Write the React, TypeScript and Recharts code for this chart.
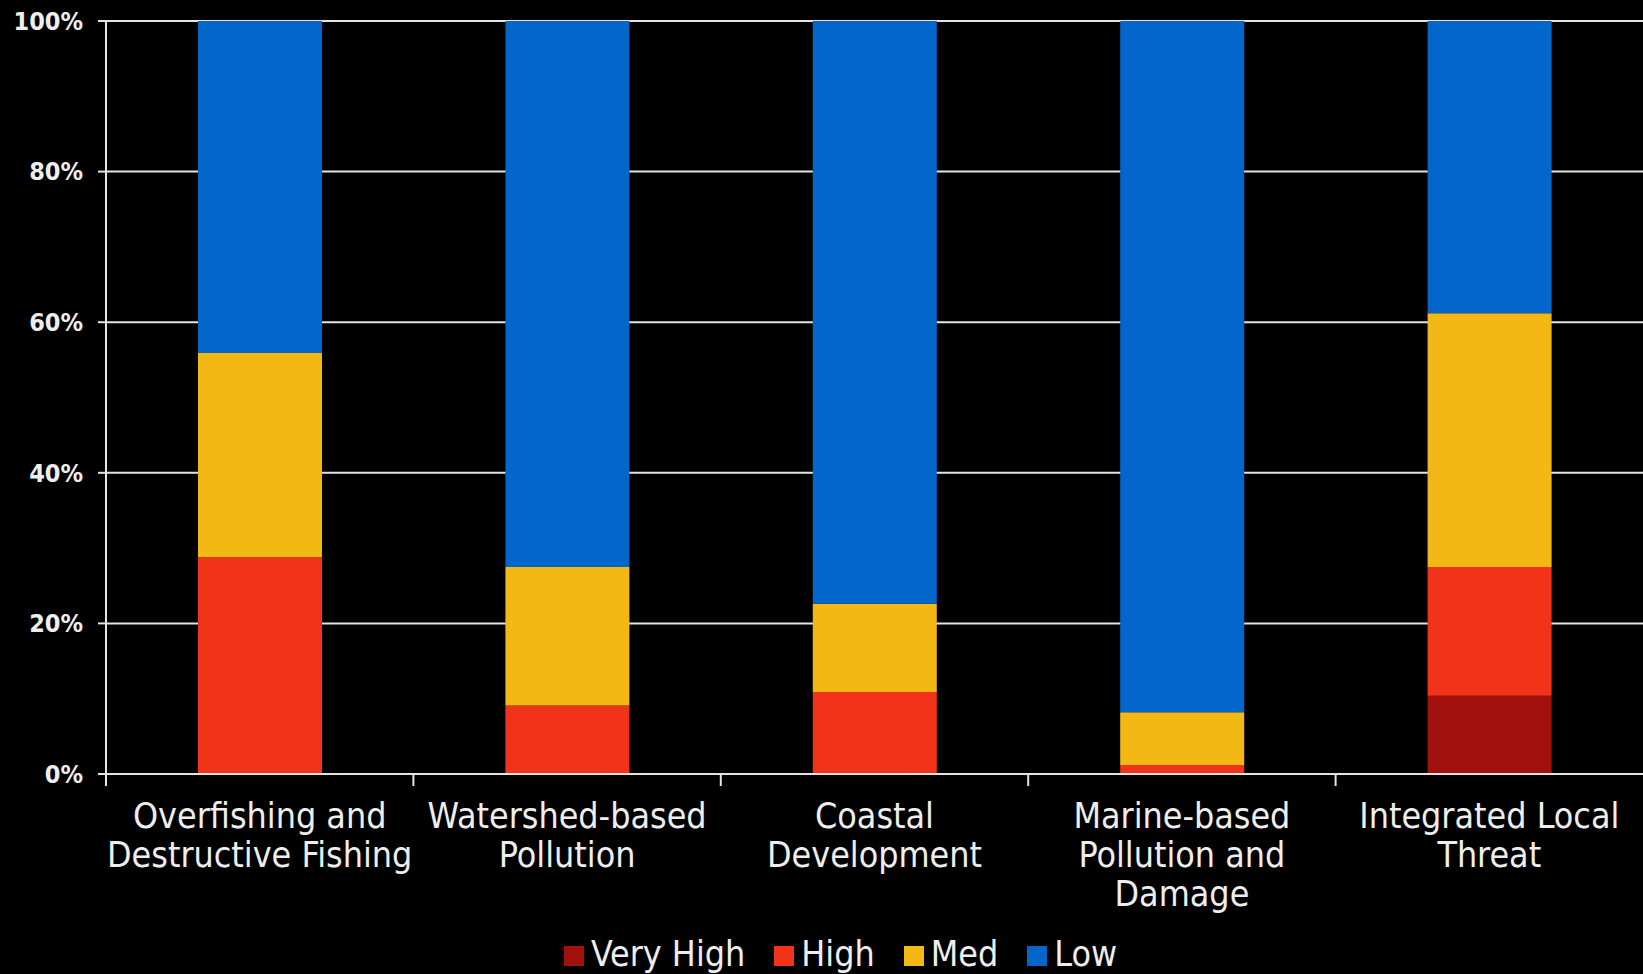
import React from 'react';
import { BarChart, Bar, XAxis, YAxis, CartesianGrid, Legend } from 'recharts';

// Threat categories along the x axis, and how each is broken onto lines
const threats = [
  'Overfishing and Destructive Fishing',
  'Watershed-based Pollution',
  'Coastal Development',
  'Marine-based Pollution and Damage',
  'Integrated Local Threat',
];
const threatLines = [
  ['Overfishing and', 'Destructive Fishing'],
  ['Watershed-based', 'Pollution'],
  ['Coastal', 'Development'],
  ['Marine-based', 'Pollution and', 'Damage'],
  ['Integrated Local', 'Threat'],
];

// Share of each threat level (percent of total)
const veryHigh = [0, 0, 0, 0, 10.4];
const high = [28.8, 9.1, 10.9, 1.2, 17.1];
const med = [27.1, 18.4, 11.7, 7.0, 33.7];
const low = [44.1, 72.5, 77.4, 91.8, 38.8];

const yTicks = [0, 20, 40, 60, 80, 100];

const levels = [
  { key: 'veryHigh', name: 'Very High', color: '#a3110f' },
  { key: 'high', name: 'High', color: '#f03319' },
  { key: 'med', name: 'Med', color: '#f3b813' },
  { key: 'low', name: 'Low', color: '#0366cb' },
];

const data = threats.map((threat, i) => ({
  threat,
  veryHigh: veryHigh[i],
  high: high[i],
  med: med[i],
  low: low[i],
}));

const FONT = '"DejaVu Sans Condensed", "DejaVu Sans", sans-serif';
const TEXT = '#eeeeee';
const LINE = '#e4e4e4';
const LABEL_SIZE = 35.5;

// Category label, plus the divider tick on the left edge of each band
const ThreatTick = ({ x, y, payload }: any) => {
  const lines = threatLines[threats.indexOf(payload.value)] || [payload.value];
  const half = payload.offset || 0;
  return (
    <g>
      <line x1={x - half} x2={x - half} y1={y} y2={y + 12} stroke={LINE} strokeWidth={2} />
      {lines.map((line: string, i: number) => (
        <text
          key={i}
          x={x}
          y={y + 54 + i * 39}
          textAnchor="middle"
          fill={TEXT}
          fontSize={LABEL_SIZE}
          fontFamily={FONT}
        >
          {line}
        </text>
      ))}
    </g>
  );
};

const LevelLegend = () => (
  <div
    style={{
      height: 40,
      display: 'flex',
      justifyContent: 'center',
      gap: 29,
      paddingLeft: 38,
      fontFamily: FONT,
      fontSize: LABEL_SIZE,
      lineHeight: '40px',
      color: TEXT,
      whiteSpace: 'nowrap',
    }}
  >
    {levels.map((l) => (
      <div key={l.key} style={{ display: 'flex', alignItems: 'flex-start', gap: 7 }}>
        <span style={{ display: 'inline-block', width: 20, height: 20, marginTop: 12, background: l.color }} />
        <span>{l.name}</span>
      </div>
    ))}
  </div>
);

export default function App() {
  return (
    <div style={{ position: 'absolute', left: 0, top: 0, width: 1643, height: 974, background: '#000', overflow: 'hidden' }}>
      <BarChart
        width={1643}
        height={974}
        data={data}
        margin={{ top: 21, right: 0, left: 0, bottom: 0 }}
      >
        <CartesianGrid horizontal vertical={false} stroke={LINE} strokeWidth={2} />
        <XAxis
          dataKey="threat"
          height={160}
          interval={0}
          tickLine={false}
          tickSize={0}
          tickMargin={0}
          axisLine={{ stroke: LINE, strokeWidth: 2 }}
          tick={<ThreatTick />}
        />
        <YAxis
          width={106}
          domain={[0, 100]}
          ticks={yTicks}
          tickFormatter={(v: number) => `${v}%`}
          tickSize={8}
          tickMargin={15}
          tickLine={{ stroke: LINE, strokeWidth: 2 }}
          axisLine={{ stroke: LINE, strokeWidth: 2 }}
          tick={{ fill: TEXT, fontSize: 25, fontWeight: 'bold', fontFamily: FONT }}
        />
        <Legend verticalAlign="bottom" content={<LevelLegend />} />
        {levels.map((l) => (
          <Bar
            key={l.key}
            dataKey={l.key}
            name={l.name}
            stackId="threat"
            fill={l.color}
            barSize={124}
            isAnimationActive={false}
          />
        ))}
      </BarChart>
    </div>
  );
}
